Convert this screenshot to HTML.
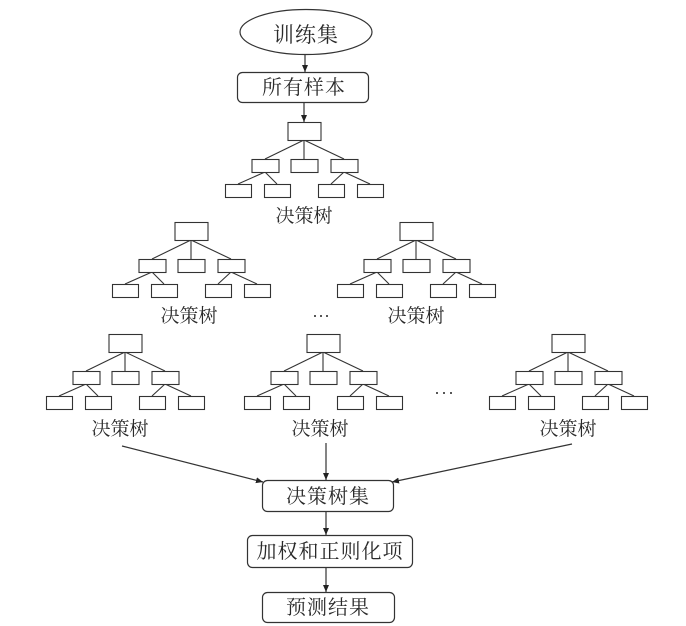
<!DOCTYPE html>
<html><head><meta charset="utf-8">
<style>
html,body{margin:0;padding:0;background:#fff;}
svg{display:block;}
text{font-family:"Liberation Serif","Noto Serif CJK SC",serif;fill:#2a2a2a;}
</style></head>
<body>
<svg width="686" height="626" viewBox="0 0 686 626" xmlns="http://www.w3.org/2000/svg">
<defs>
<marker id="ah" markerWidth="8" markerHeight="8" refX="7" refY="3" orient="auto" markerUnits="userSpaceOnUse">
<path d="M0,0 L7,3 L0,6 z" fill="#222"/>
</marker>
</defs>
<g stroke="#333" stroke-width="1.2" fill="none">
<ellipse cx="306" cy="32" rx="66" ry="22.5" fill="#fff"/>
<rect x="237.5" y="72.5" width="131" height="30" rx="5" fill="#fff"/>
<line x1="305" y1="54" x2="305" y2="72" marker-end="url(#ah)"/>
<line x1="304" y1="103" x2="304" y2="122" marker-end="url(#ah)"/>

<rect x="262.5" y="480.5" width="131" height="31" rx="5"/>
<rect x="247.5" y="535.5" width="165" height="32" rx="5"/>
<rect x="262.5" y="592.5" width="132" height="30" rx="5"/>
<line x1="326" y1="512" x2="326" y2="535" marker-end="url(#ah)"/>
<line x1="326" y1="568" x2="326" y2="592" marker-end="url(#ah)"/>
<line x1="122" y1="446" x2="263" y2="482" marker-end="url(#ah)"/>
<line x1="326" y1="443" x2="326" y2="480" marker-end="url(#ah)"/>
<line x1="572" y1="444" x2="392" y2="482" marker-end="url(#ah)"/>
</g>

<g id="trees" stroke="#333" stroke-width="1.1" fill="#fff"></g>

<g fill="#222">
<circle cx="315" cy="316" r="1"/><circle cx="321" cy="316" r="1"/><circle cx="327" cy="316" r="1"/>
<circle cx="437" cy="393" r="1"/><circle cx="444" cy="393" r="1"/><circle cx="451" cy="393" r="1"/>
</g>

<g font-size="20" text-anchor="middle">
<text x="306" y="42" font-size="21" letter-spacing="1">训练集</text>
<text x="304" y="94" letter-spacing="1">所有样本</text>
<text x="328" y="503" letter-spacing="1">决策树集</text>
<text x="330" y="558" letter-spacing="1">加权和正则化项</text>
<text x="328" y="614" letter-spacing="1">预测结果</text>
</g>
<g font-size="19" text-anchor="middle">
<text x="304" y="222">决策树</text>
<text x="189" y="322">决策树</text>
<text x="416" y="322">决策树</text>
<text x="120" y="435">决策树</text>
<text x="320" y="435">决策树</text>
<text x="568" y="435">决策树</text>
</g>

<script>
(function(){
var g=document.getElementById('trees');
var ns='http://www.w3.org/2000/svg';
function R(x,y,w,h){var r=document.createElementNS(ns,'rect');r.setAttribute('x',x+0.5);r.setAttribute('y',y+0.5);r.setAttribute('width',w);r.setAttribute('height',h);g.appendChild(r);}
function L(a,b,c,d){var l=document.createElementNS(ns,'line');l.setAttribute('x1',a);l.setAttribute('y1',b);l.setAttribute('x2',c);l.setAttribute('y2',d);g.appendChild(l);}
function tree(cx,y){
 var l2=[cx-39,cx,cx+40], l3=[cx-66,cx-27,cx+27,cx+66];
 var y2=y+37,y3=y+62;
 L(cx,y+18,l2[0],y2);L(cx,y+18,l2[1],y2);L(cx,y+18,l2[2],y2);
 L(l2[0],y2+13,l3[0],y3);L(l2[0],y2+13,l3[1],y3);
 L(l2[2],y2+13,l3[2],y3);L(l2[2],y2+13,l3[3],y3);
 R(cx-16.5,y,33,18);
 l2.forEach(function(c){R(c-13.5,y2,27,13);});
 l3.forEach(function(c){R(c-13,y3,26,13);});
}
tree(304,122);
tree(191,222);
tree(416,222);
tree(125,334);
tree(323,334);
tree(568,334);
})();
</script>
</svg>
</body></html>
